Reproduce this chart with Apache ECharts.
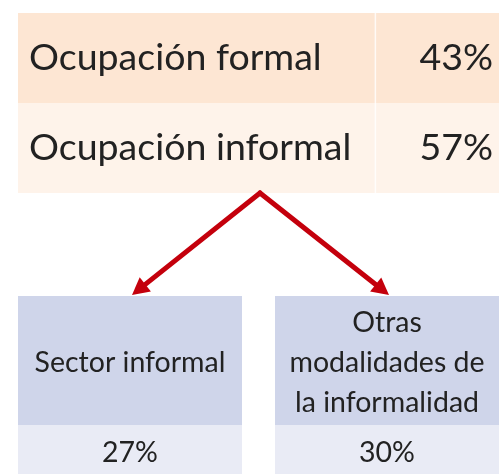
<!DOCTYPE html>
<html>
<head>
<meta charset="utf-8">
<script src="https://cdn.jsdelivr.net/npm/echarts@6/dist/echarts.min.js"></script>
<style>
  html, body { margin: 0; padding: 0; background: #ffffff; }
  #chart { width: 499px; height: 474px; }
</style>
</head>
<body>
<div id="chart"></div>
<script>
// top table: occupation split
const topLabels = ['Ocupación formal', 'Ocupación informal']
const topValues = [43, 57]
// boxes under the informal row
const subLabels = ['Sector informal', 'Otras\nmodalidades de\nla informalidad']
const subValues = [27, 30]

const FONT = 'Lato, "Noto Sans", sans-serif'
const TEXT = '#222222'
const ROW_COLORS = ['#fde6d3', '#fef3ea']
const HEAD_COLOR = '#cfd5ea'
const VALUE_COLOR = '#e9ebf5'
const ARROW = '#c4000c'
const LABEL_SPLIT = 74.3 // where the label column ends, in % of table width
const HEAD_H = 129
const BOX_GAP = 33

const chart = echarts.init(document.getElementById('chart'))

function renderTopRow(params, api) {
  const row = api.value(0)
  const cs = params.coordSys
  const center = api.coord([0, row])
  const bandH = api.size([0, 1])[1]
  const y0 = center[1] - bandH / 2
  const splitX = api.coord([LABEL_SPLIT, row])[0]
  return {
    type: 'group',
    children: [
      { type: 'rect', shape: { x: cs.x, y: y0, width: cs.width, height: bandH },
        style: { fill: ROW_COLORS[row] } },
      { type: 'line', shape: { x1: splitX, y1: y0, x2: splitX, y2: y0 + bandH },
        style: { stroke: 'rgba(255,255,255,0.8)', lineWidth: 1.5 } },
      { type: 'text', x: cs.x + 11, y: center[1],
        style: { text: topLabels[row], font: '37.5px ' + FONT, fill: TEXT,
          textAlign: 'left', textVerticalAlign: 'middle' } },
      { type: 'text', x: cs.x + cs.width - 6, y: center[1],
        style: { text: api.value(1) + '%', font: '37.5px ' + FONT, fill: TEXT,
          textAlign: 'right', textVerticalAlign: 'middle' } }
    ]
  }
}

function arrow(x1, y1, x2, y2) {
  const len = Math.hypot(x2 - x1, y2 - y1)
  const ux = (x2 - x1) / len
  const uy = (y2 - y1) / len
  const headL = 17
  const headW = 9
  const bx = x2 - ux * headL
  const by = y2 - uy * headL
  return [
    { type: 'line', shape: { x1: x1, y1: y1, x2: bx, y2: by },
      style: { stroke: ARROW, lineWidth: 5, lineCap: 'round' } },
    { type: 'polygon',
      shape: { points: [[x2, y2], [bx - uy * headW, by + ux * headW], [bx + uy * headW, by - ux * headW]] },
      style: { fill: ARROW } }
  ]
}

function renderSubBox(params, api) {
  const i = api.value(0)
  const n = subLabels.length
  const cs = params.coordSys
  const center = api.coord([i, 0])
  const bandW = api.size([1, 0])[0]
  let x0 = center[0] - bandW / 2
  let x1 = center[0] + bandW / 2
  if (i > 0) x0 += BOX_GAP / 2
  if (i < n - 1) x1 -= BOX_GAP / 2
  const w = x1 - x0
  const cx = x0 + w / 2
  const top = cs.y
  // apex sits at the middle of the top table's bottom edge
  const apexX = chart.convertToPixel({ gridIndex: 0 }, [50, 1])[0] + 1.5
  const apexY = cs.y - 103
  return {
    type: 'group',
    children: [
      { type: 'rect', shape: { x: x0, y: top, width: w, height: HEAD_H }, style: { fill: HEAD_COLOR } },
      { type: 'rect', shape: { x: x0, y: top + HEAD_H, width: w, height: cs.height - HEAD_H },
        style: { fill: VALUE_COLOR } },
      { type: 'text', x: cx, y: top + HEAD_H / 2 + 2,
        style: { text: subLabels[i], font: '28.5px ' + FONT, fill: TEXT, lineHeight: 40,
          textAlign: 'center', textVerticalAlign: 'middle' } },
      { type: 'text', x: cx, y: top + HEAD_H + 28,
        style: { text: api.value(1) + '%', font: '28.5px ' + FONT, fill: TEXT,
          textAlign: 'center', textVerticalAlign: 'middle' } }
    ].concat(arrow(apexX, apexY, cx + (i === 0 ? 2 : 2), top - 1))
  }
}

chart.setOption({
  animation: false,
  backgroundColor: '#ffffff',
  grid: [
    { left: 18, right: 0, top: 13, height: 180 },
    { left: 18, right: 0, top: 296, bottom: 0 }
  ],
  xAxis: [
    { gridIndex: 0, type: 'value', min: 0, max: 100, show: false },
    { gridIndex: 1, type: 'category', data: subLabels, show: false }
  ],
  yAxis: [
    { gridIndex: 0, type: 'category', data: topLabels, inverse: true, show: false },
    { gridIndex: 1, type: 'value', min: 0, max: 1, show: false }
  ],
  series: [
    {
      type: 'custom',
      xAxisIndex: 0,
      yAxisIndex: 0,
      renderItem: renderTopRow,
      encode: { y: 0 },
      data: topValues.map((v, i) => [i, v])
    },
    {
      type: 'custom',
      xAxisIndex: 1,
      yAxisIndex: 1,
      renderItem: renderSubBox,
      encode: { x: 0 },
      data: subValues.map((v, i) => [i, v])
    }
  ]
})
</script>
</body>
</html>
